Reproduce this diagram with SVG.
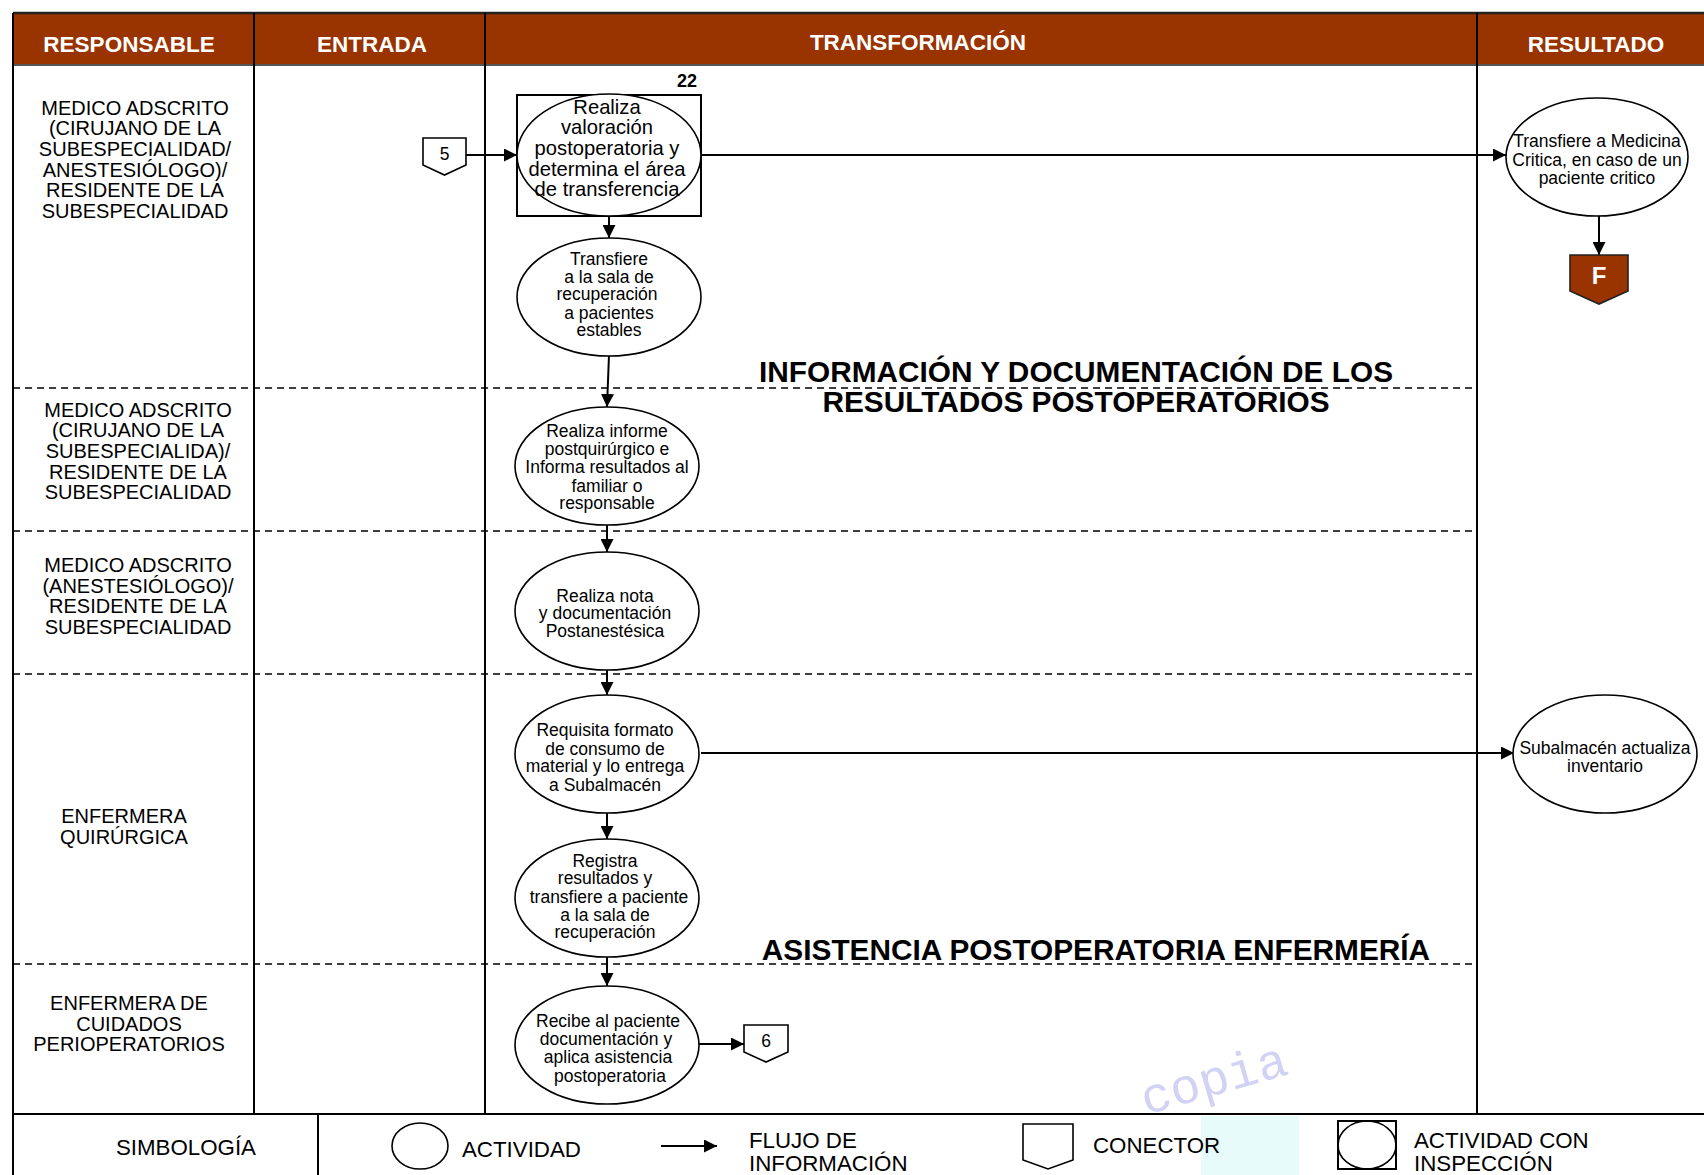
<svg xmlns="http://www.w3.org/2000/svg" width="1704" height="1175" viewBox="0 0 1704 1175">
<style>
.hdr{font-family:"Liberation Sans",Arial,sans-serif;font-weight:bold;font-size:22.5px;fill:#fff;text-anchor:middle}
.lane{font-family:"Liberation Sans",Arial,sans-serif;font-size:20px;fill:#000;text-anchor:middle}
.nt{font-family:"Liberation Sans",Arial,sans-serif;font-size:17.5px;fill:#000;text-anchor:middle}
.nt1{font-family:"Liberation Sans",Arial,sans-serif;font-size:20.2px;fill:#000;text-anchor:middle}
.sec{font-family:"Liberation Sans",Arial,sans-serif;font-weight:bold;font-size:29.8px;fill:#000;text-anchor:middle}
.leg{font-family:"Liberation Sans",Arial,sans-serif;font-size:22.3px;fill:#000}
.act{fill:#fff;stroke:#000;stroke-width:1.6}
.ln{stroke:#000;stroke-width:2;fill:none}
.dash{stroke:#000;stroke-width:1.6;stroke-dasharray:7,5;fill:none}
.fl{stroke:#000;stroke-width:2;fill:none;marker-end:url(#ah)}
</style>
<defs>
<marker id="ah" viewBox="0 0 10 10" refX="10" refY="5" markerWidth="6.5" markerHeight="6.5" orient="auto" markerUnits="strokeWidth">
<path d="M0,0 L10,5 L0,10 z" fill="#000"/>
</marker>
</defs>
<rect width="1704" height="1175" fill="#fff"/>
<g id="header">
<rect x="13" y="13" width="1691" height="52" fill="#993300"/>
<line x1="13" y1="13" x2="1704" y2="13" stroke="#222" stroke-width="2.5"/>
<line x1="13" y1="65" x2="1704" y2="65" stroke="#555" stroke-width="2"/>
<text class="hdr" x="129" y="52">RESPONSABLE</text>
<text class="hdr" x="372" y="52">ENTRADA</text>
<text class="hdr" x="918" y="50">TRANSFORMACIÓN</text>
<text class="hdr" x="1596" y="52">RESULTADO</text>
</g>
<g id="grid">
<line class="ln" x1="13" y1="13" x2="13" y2="1175"/>
<line class="ln" x1="254" y1="13" x2="254" y2="1114"/>
<line class="ln" x1="485" y1="13" x2="485" y2="1114"/>
<line class="ln" x1="1477" y1="13" x2="1477" y2="1114"/>
<line class="ln" x1="13" y1="1114" x2="1704" y2="1114"/>
<line class="ln" x1="318" y1="1114" x2="318" y2="1175"/>
<line class="dash" x1="13" y1="388" x2="1474" y2="388"/>
<line class="dash" x1="13" y1="531" x2="1474" y2="531"/>
<line class="dash" x1="13" y1="674" x2="1474" y2="674"/>
<line class="dash" x1="13" y1="964" x2="1474" y2="964"/>
</g>
<g id="lane1">
<text class="lane" x="135" y="115">MEDICO ADSCRITO</text>
<text class="lane" x="135" y="135">(CIRUJANO DE LA</text>
<text class="lane" x="135" y="156">SUBESPECIALIDAD/</text>
<text class="lane" x="135" y="177">ANESTESIÓLOGO)/</text>
<text class="lane" x="135" y="197">RESIDENTE DE LA</text>
<text class="lane" x="135" y="218">SUBESPECIALIDAD</text>
</g>
<g id="lane2">
<text class="lane" x="138" y="417">MEDICO ADSCRITO</text>
<text class="lane" x="138" y="437">(CIRUJANO DE LA</text>
<text class="lane" x="138" y="458">SUBESPECIALIDA)/</text>
<text class="lane" x="138" y="479">RESIDENTE DE LA</text>
<text class="lane" x="138" y="499">SUBESPECIALIDAD</text>
</g>
<g id="lane3">
<text class="lane" x="138" y="572">MEDICO ADSCRITO</text>
<text class="lane" x="138" y="593">(ANESTESIÓLOGO)/</text>
<text class="lane" x="138" y="613">RESIDENTE DE LA</text>
<text class="lane" x="138" y="634">SUBESPECIALIDAD</text>
</g>
<g id="lane4">
<text class="lane" x="124" y="823">ENFERMERA</text>
<text class="lane" x="124" y="844">QUIRÚRGICA</text>
</g>
<g id="lane5">
<text class="lane" x="129" y="1010">ENFERMERA DE</text>
<text class="lane" x="129" y="1031">CUIDADOS</text>
<text class="lane" x="129" y="1051">PERIOPERATORIOS</text>
</g>
<g id="sections">
<text class="sec" x="1076" y="382">INFORMACIÓN Y DOCUMENTACIÓN DE LOS</text>
<text class="sec" x="1076" y="412">RESULTADOS POSTOPERATORIOS</text>
<text class="sec" x="1096" y="960">ASISTENCIA POSTOPERATORIA ENFERMERÍA</text>
</g>
<g id="connectors">
<line class="fl" x1="466" y1="155" x2="517" y2="155"/>
<line class="fl" x1="701" y1="155" x2="1506" y2="155"/>
<line class="fl" x1="1599" y1="215" x2="1599" y2="255"/>
<line class="fl" x1="609" y1="216" x2="609" y2="238"/>
<line class="fl" x1="609" y1="355" x2="607" y2="407"/>
<line class="fl" x1="607" y1="525" x2="607" y2="552"/>
<line class="fl" x1="607" y1="670" x2="607" y2="695"/>
<line class="fl" x1="701" y1="753" x2="1514" y2="753"/>
<line class="fl" x1="607" y1="813" x2="607" y2="839"/>
<line class="fl" x1="607" y1="956" x2="607" y2="986"/>
<line class="fl" x1="699" y1="1044" x2="744" y2="1044"/>
</g>
<g id="conn5">
<path d="M423,138 H466 V165 L444.5,175 L423,165 Z" fill="#fff" stroke="#000" stroke-width="1.6"/>
<text class="nt" x="444.5" y="160" font-size="14">5</text>
</g>
<g id="n1">
<text x="687" y="87" font-family="Liberation Sans, Arial, sans-serif" font-weight="bold" font-size="18" text-anchor="middle">22</text>
<rect x="517" y="95" width="184" height="121" fill="#fff" stroke="#000" stroke-width="2"/>
<ellipse class="act" cx="609" cy="155" rx="92" ry="61"/>
<text class="nt1" x="607" y="114">Realiza</text>
<text class="nt1" x="607" y="134">valoración</text>
<text class="nt1" x="607" y="155">postoperatoria y</text>
<text class="nt1" x="607" y="176">determina el área</text>
<text class="nt1" x="607" y="196">de transferencia</text>
</g>
<g id="n2">
<ellipse class="act" cx="609" cy="297" rx="92" ry="59"/>
<text class="nt" x="609" y="265">Transfiere</text>
<text class="nt" x="609" y="283">a la sala de</text>
<text class="nt" x="607" y="300">recuperación</text>
<text class="nt" x="609" y="319">a pacientes</text>
<text class="nt" x="609" y="336">estables</text>
</g>
<g id="n3">
<ellipse class="act" cx="607" cy="466" rx="92" ry="59"/>
<text class="nt" x="607" y="437">Realiza informe</text>
<text class="nt" x="607" y="455">postquirúrgico e</text>
<text class="nt" x="607" y="473">Informa resultados al</text>
<text class="nt" x="607" y="492">familiar o</text>
<text class="nt" x="607" y="509">responsable</text>
</g>
<g id="n4">
<ellipse class="act" cx="607" cy="611" rx="92" ry="59"/>
<text class="nt" x="605" y="602">Realiza nota</text>
<text class="nt" x="605" y="619">y documentación</text>
<text class="nt" x="605" y="637">Postanestésica</text>
</g>
<g id="n5">
<ellipse class="act" cx="607" cy="754" rx="92" ry="59"/>
<text class="nt" x="605" y="736">Requisita formato</text>
<text class="nt" x="605" y="755">de consumo de</text>
<text class="nt" x="605" y="772">material y lo entrega</text>
<text class="nt" x="605" y="791">a Subalmacén</text>
</g>
<g id="n6">
<ellipse class="act" cx="607" cy="898" rx="92" ry="59"/>
<text class="nt" x="605" y="867">Registra</text>
<text class="nt" x="605" y="884">resultados y</text>
<text class="nt" x="609" y="903">transfiere a paciente</text>
<text class="nt" x="605" y="921">a la sala de</text>
<text class="nt" x="605" y="938">recuperación</text>
</g>
<g id="n7">
<ellipse class="act" cx="607" cy="1045" rx="92" ry="59"/>
<text class="nt" x="608" y="1027">Recibe al paciente</text>
<text class="nt" x="606" y="1045">documentación y</text>
<text class="nt" x="608" y="1063">aplica asistencia</text>
<text class="nt" x="610" y="1082">postoperatoria</text>
</g>
<g id="conn6">
<path d="M744,1025 H788 V1052 L766,1062 L744,1052 Z" fill="#fff" stroke="#000" stroke-width="1.6"/>
<text class="nt" x="766" y="1047" font-size="14">6</text>
</g>
<g id="r1">
<ellipse class="act" cx="1597" cy="157" rx="91" ry="59"/>
<text class="nt" x="1597" y="147">Transfiere a Medicina</text>
<text class="nt" x="1597" y="166">Critica, en caso de un</text>
<text class="nt" x="1597" y="184">paciente critico</text>
</g>
<g id="endF">
<path d="M1570,255 H1628 V291 L1599,304 L1570,291 Z" fill="#993300" stroke="#222" stroke-width="1.6"/>
<text x="1599" y="284" font-family="Liberation Sans, Arial, sans-serif" font-weight="bold" font-size="24" fill="#fff" text-anchor="middle">F</text>
</g>
<g id="r2">
<ellipse class="act" cx="1605" cy="754" rx="92" ry="59"/>
<text class="nt" x="1605" y="754">Subalmacén actualiza</text>
<text class="nt" x="1605" y="772">inventario</text>
</g>
<g id="watermark">
<rect x="1201" y="1116" width="98" height="59" fill="#e8fbfb"/>
<text x="1214" y="1095" font-family="Liberation Mono, monospace" font-size="50" fill="#d2d2f4" text-anchor="middle" transform="rotate(-16 1214 1080)">copia</text>
</g>
<g id="legend">
<text class="leg" x="186" y="1155" text-anchor="middle">SIMBOLOGÍA</text>
<ellipse cx="420" cy="1146" rx="28" ry="23" fill="#fff" stroke="#000" stroke-width="1.6"/>
<text class="leg" x="462" y="1157">ACTIVIDAD</text>
<line class="fl" x1="661" y1="1146" x2="717" y2="1146"/>
<text class="leg" x="749" y="1148">FLUJO DE</text>
<text class="leg" x="749" y="1171">INFORMACIÓN</text>
<path d="M1023,1124 H1073 V1160 L1048,1169 L1023,1160 Z" fill="#fff" stroke="#000" stroke-width="1.6"/>
<text class="leg" x="1093" y="1153">CONECTOR</text>
<rect x="1338" y="1121" width="58" height="48" fill="#fff" stroke="#000" stroke-width="2"/>
<ellipse cx="1367" cy="1145" rx="29" ry="24" fill="none" stroke="#000" stroke-width="1.6"/>
<text class="leg" x="1414" y="1148">ACTIVIDAD CON</text>
<text class="leg" x="1414" y="1171">INSPECCIÓN</text>
</g>
</svg>
